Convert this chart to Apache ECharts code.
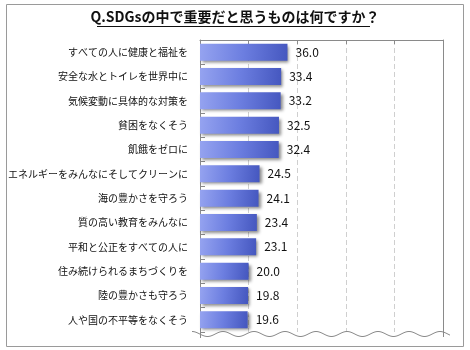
<!DOCTYPE html>
<html>
<head>
<meta charset="utf-8">
<script src="https://cdn.jsdelivr.net/npm/echarts@6/dist/echarts.min.js"></script>
<style>
  html, body { margin: 0; padding: 0; background: #fff; }
  #chart { width: 470px; height: 350px; }
</style>
</head>
<body>
<div id="chart"></div>
<script>
// Survey: which SDGs are considered important (%)
const titleText = 'Q.SDGsの中で重要だと思うものは何ですか？';
const categories = [
  'すべての人に健康と福祉を',
  '安全な水とトイレを世界中に',
  '気候変動に具体的な対策を',
  '貧困をなくそう',
  '飢餓をゼロに',
  'エネルギーをみんなにそしてクリーンに',
  '海の豊かさを守ろう',
  '質の高い教育をみんなに',
  '平和と公正をすべての人に',
  '住み続けられるまちづくりを',
  '陸の豊かさも守ろう',
  '人や国の不平等をなくそう'
];
const values = [36.0, 33.4, 33.2, 32.5, 32.4, 24.5, 24.1, 23.4, 23.1, 20.0, 19.8, 19.6];

const FONT = '"Noto Sans CJK JP", "Noto Sans", sans-serif';
const GRID = { left: 200, right: 27, top: 40, bottom: 18, outerBoundsMode: 'none' };
const LINE = '#8a8a8a';

// wavy break line across the bottom of the plot
const wave = [];
for (let x = 192; x <= 450; x += 1) {
  wave.push([x, 334 - 2.5 * Math.cos(2 * Math.PI * (x - 347) / 31)]);
}

const chart = echarts.init(document.getElementById('chart'), null, { renderer: 'canvas' });
chart.setOption({
  backgroundColor: '#fff',
  animation: false,
  textStyle: { fontFamily: FONT },
  grid: GRID,
  xAxis: {
    type: 'value',
    position: 'top',
    min: 0,
    max: 100,
    interval: 20,
    axisLine: { show: true, lineStyle: { color: LINE, width: 1 } },
    axisTick: { show: true, inside: true, length: 4, lineStyle: { color: LINE } },
    axisLabel: { show: false },
    splitLine: { show: true, lineStyle: { color: '#cfcfcf', type: [5, 3], width: 1 } }
  },
  yAxis: [
    {
      type: 'category',
      data: categories,
      inverse: true,
      axisLine: { show: true, lineStyle: { color: LINE, width: 1 } },
      axisTick: { show: true, inside: true, length: 5, lineStyle: { color: LINE } },
      axisLabel: { color: '#111', fontSize: 10, margin: 12, fontFamily: FONT }
    },
    {
      type: 'category',
      data: categories,
      inverse: true,
      position: 'right',
      axisLine: { show: true, lineStyle: { color: LINE, width: 1 } },
      axisTick: { show: false },
      axisLabel: { show: false }
    }
  ],
  series: [{
    type: 'bar',
    data: values,
    barWidth: 17,
    itemStyle: {
      color: new echarts.graphic.LinearGradient(0, 0, 1, 0.3, [
        { offset: 0, color: '#95a3f0' },
        { offset: 0.5, color: '#6c7ee0' },
        { offset: 1, color: '#4658c0' }
      ]),
      shadowColor: 'rgba(0,0,0,0.45)',
      shadowBlur: 3,
      shadowOffsetX: 2,
      shadowOffsetY: 2
    },
    label: {
      show: true,
      position: 'right',
      distance: 8,
      color: '#111',
      fontSize: 12,
      fontFamily: FONT,
      formatter: p => p.value.toFixed(1)
    }
  }],
  graphic: [
    {
      type: 'rect',
      shape: { x: 6.5, y: 4.5, width: 457, height: 342 },
      style: { fill: null, stroke: '#9a9a9a', lineWidth: 1 },
      silent: true
    },
    {
      type: 'text',
      left: 'center',
      top: 10,
      style: {
        text: titleText,
        font: 'bold 14px ' + FONT,
        fill: '#111'
      }
    },
    {
      type: 'line',
      shape: { x1: 97, y1: 26.5, x2: 370, y2: 26.5 },
      style: { stroke: '#111', lineWidth: 1 }
    },
    {
      type: 'line',
      shape: { x1: 200.5, y1: 330, x2: 200.5, y2: 338 },
      style: { stroke: LINE, lineWidth: 1 }
    },
    {
      type: 'line',
      shape: { x1: 443.5, y1: 330, x2: 443.5, y2: 337 },
      style: { stroke: LINE, lineWidth: 1 }
    },
    {
      type: 'polyline',
      shape: { points: wave },
      style: { stroke: LINE, lineWidth: 1, fill: null },
      z: 100
    }
  ]
});
</script>
</body>
</html>
